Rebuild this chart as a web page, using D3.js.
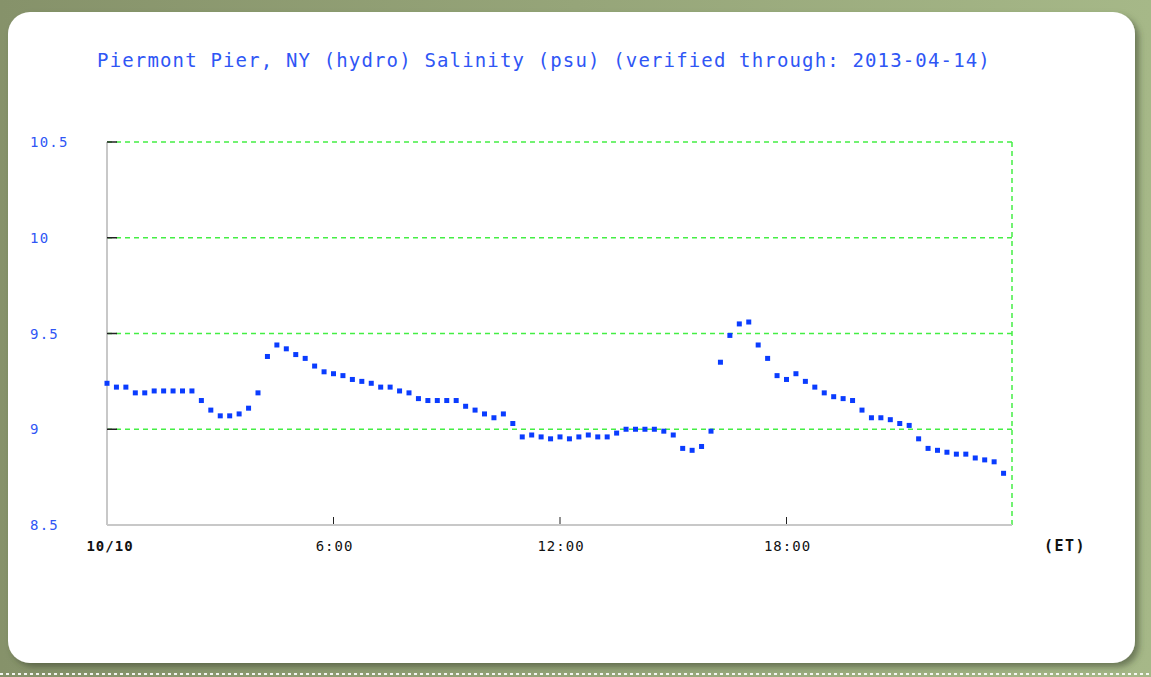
<!DOCTYPE html>
<html><head><meta charset="utf-8">
<script src="https://cdn.jsdelivr.net/npm/d3@7"></script>
<style>body{margin:0;background:#8f9d6d;}svg{display:block}</style>
</head><body>
<svg id="c" width="1151" height="677"></svg>
<script>
const title = "Piermont Pier, NY (hydro) Salinity (psu) (verified through: 2013-04-14)";
const yTicks = [8.5, 9, 9.5, 10, 10.5];
const yTickLabels = ["8.5", "9", "9.5", "10", "10.5"];
const xTicks = [0, 6, 12, 18];
const xTickLabels = ["10/10", "6:00", "12:00", "18:00"];
// salinity every 15 minutes from 00:00 to 23:45
const salinity = [
 9.24, 9.22, 9.22, 9.19, 9.19, 9.20, 9.20, 9.20, 9.20, 9.20,
 9.15, 9.10, 9.07, 9.07, 9.08, 9.11, 9.19, 9.38, 9.44, 9.42,
 9.39, 9.37, 9.33, 9.30, 9.29, 9.28, 9.26, 9.25, 9.24, 9.22,
 9.22, 9.20, 9.19, 9.16, 9.15, 9.15, 9.15, 9.15, 9.12, 9.10,
 9.08, 9.06, 9.08, 9.03, 8.96, 8.97, 8.96, 8.95, 8.96, 8.95,
 8.96, 8.97, 8.96, 8.96, 8.98, 9.00, 9.00, 9.00, 9.00, 8.99,
 8.97, 8.90, 8.89, 8.91, 8.99, 9.35, 9.49, 9.55, 9.56, 9.44,
 9.37, 9.28, 9.26, 9.29, 9.25, 9.22, 9.19, 9.17, 9.16, 9.15,
 9.10, 9.06, 9.06, 9.05, 9.03, 9.02, 8.95, 8.90, 8.89, 8.88,
 8.87, 8.87, 8.85, 8.84, 8.83, 8.77
];
const hours = salinity.map((_, i) => i * 0.25);

const svg = d3.select("#c");
const defs = svg.append("defs");
const bg = defs.append("linearGradient").attr("id","bg").attr("x1","0").attr("x2","1");
bg.append("stop").attr("offset","0").attr("stop-color","#86926a");
bg.append("stop").attr("offset","1").attr("stop-color","#a6b888");
const f = defs.append("filter").attr("id","sh").attr("x","-5%").attr("y","-5%").attr("width","110%").attr("height","110%");
f.append("feDropShadow").attr("dx",4).attr("dy",4).attr("stdDeviation",3).attr("flood-color","#3b4330").attr("flood-opacity",0.55);

svg.append("rect").attr("width",1151).attr("height",677).attr("fill","url(#bg)");
svg.append("line").attr("x1",0).attr("x2",1151).attr("y1",674).attr("y2",674)
  .attr("stroke","#ffffff").attr("stroke-width",2).attr("stroke-dasharray","3,3").attr("opacity",0.9);
svg.append("rect").attr("x",8).attr("y",12).attr("width",1127).attr("height",651)
  .attr("rx",22).attr("ry",22).attr("fill","#ffffff").attr("filter","url(#sh)");

const x = d3.scaleLinear().domain([0,24]).range([107,1013]);
const y = d3.scaleLinear().domain([8.5,10.5]).range([525,142]);

svg.append("text").attr("x",544).attr("y",67).attr("text-anchor","middle")
  .attr("font-family","DejaVu Sans Mono").attr("font-size",19).attr("letter-spacing",1.15)
  .attr("fill","#2f56f5").text(title);

const g = svg.append("g");
g.selectAll("line.grid").data(yTicks.filter(v => v > 8.5)).join("line")
  .attr("x1",x(0)).attr("x2",x(24)).attr("y1",d=>y(d)).attr("y2",d=>y(d))
  .attr("stroke","#44ee44").attr("stroke-width",1.5).attr("stroke-dasharray","5,4");
g.append("line").attr("x1",x(24)-1).attr("x2",x(24)-1).attr("y1",y(10.5)).attr("y2",y(8.5))
  .attr("stroke","#44ee44").attr("stroke-width",1.5).attr("stroke-dasharray","5,4");

g.append("line").attr("x1",x(0)).attr("x2",x(0)).attr("y1",y(10.5)).attr("y2",y(8.5))
  .attr("stroke","#c8c8c8").attr("stroke-width",2);
g.append("line").attr("x1",x(0)).attr("x2",x(24)-1).attr("y1",y(8.5)).attr("y2",y(8.5))
  .attr("stroke","#c8c8c8").attr("stroke-width",2);
g.selectAll("line.yt").data(yTicks.filter(v => v > 8.5)).join("line")
  .attr("x1",x(0)).attr("x2",x(0)+10).attr("y1",d=>y(d)).attr("y2",d=>y(d))
  .attr("stroke","#222").attr("stroke-width",1.5);
g.selectAll("line.xt").data(xTicks.slice(1)).join("line")
  .attr("x1",d=>x(d)).attr("x2",d=>x(d)).attr("y1",y(8.5)-1).attr("y2",y(8.5)-8)
  .attr("stroke","#222").attr("stroke-width",1);

g.selectAll("text.yl").data(yTicks).join("text")
  .attr("x",30).attr("y",d=>y(d)+5)
  .attr("font-family","DejaVu Sans Mono").attr("font-size",14).attr("letter-spacing",1.2)
  .attr("fill","#2f56f5").text((d,i)=>yTickLabels[i]);

g.selectAll("text.xl").data(xTicks).join("text")
  .attr("x",d=>x(d)+(d===0?3:1)).attr("y",551).attr("text-anchor","middle")
  .attr("font-family","DejaVu Sans Mono").attr("font-size",14).attr("letter-spacing",1)
  .attr("font-weight",(d,i)=>i===0?"bold":"normal")
  .attr("fill","#111").text((d,i)=>xTickLabels[i]);
g.append("text").attr("x",1065).attr("y",551).attr("text-anchor","middle")
  .attr("font-family","DejaVu Sans Mono").attr("font-size",15).attr("letter-spacing",1.5).attr("font-weight","bold")
  .attr("fill","#111").text("(ET)");

svg.append("g").selectAll("rect").data(salinity).join("rect")
  .attr("x",(d,i)=>x(hours[i])-2.5).attr("y",d=>y(d)-2.5)
  .attr("width",5).attr("height",5).attr("fill","#0a3cff");
</script>
</body></html>
